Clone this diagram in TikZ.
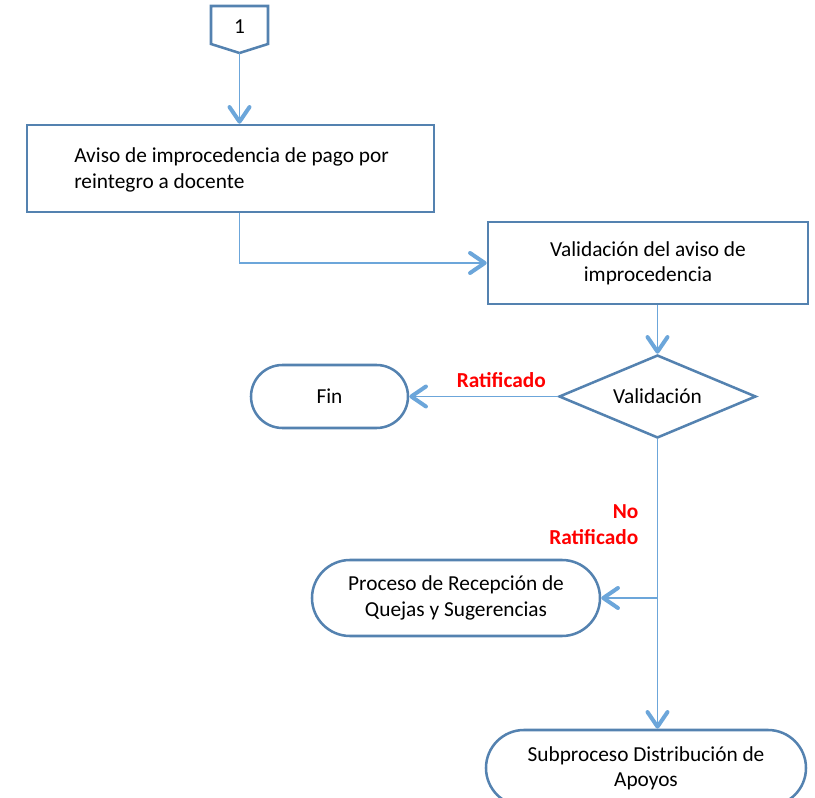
\documentclass[tikz,border=0pt]{standalone}
\usepackage{fontspec}
\setmainfont{Carlito}
\usetikzlibrary{arrows.meta,positioning,shapes.geometric,shapes.misc}
\definecolor{edgeblue}{RGB}{84,130,176}
\definecolor{flowblue}{RGB}{108,166,218}
\definecolor{labelred}{RGB}{255,0,0}
\tikzset{
  procbox/.style={draw=edgeblue, line width=1.9pt, fill=white, inner sep=0pt},
  termbox/.style={rounded rectangle, draw=edgeblue, line width=1.9pt, fill=white, inner sep=0pt, align=center},
  decbox/.style={diamond, aspect=2.37, draw=edgeblue, line width=1.9pt, fill=white, inner sep=0pt},
  flow/.style={draw=flowblue, line width=1.1pt, -{Straight Barb[length=11pt,width=15pt,line width=3pt,round]}},
  branch/.style={draw=flowblue, line width=1.1pt},
  condlabel/.style={text=labelred, font=\fontsize{16}{19.5}\selectfont\bfseries}
}
\begin{document}
\begin{tikzpicture}[x=0.75pt,y=-0.75pt,font=\fontsize{16}{19}\selectfont]
\useasboundingbox (0,0) rectangle (815,798);
% off-page connector
\draw[edgeblue, line width=1.9pt, fill=white] (211,6) -- (268,6) -- (268,44) -- (239.5,53) -- (211,44) -- cycle;
\node (conn) at (239.5,27) {1};
\coordinate (conntip) at (239.5,53);
% process boxes
\node[procbox, minimum width=407*0.75pt, minimum height=87*0.75pt] (aviso) at (230.5,168.5) {};
\node[anchor=west, align=left, inner sep=0pt] (avisotext) at (74,170) {Aviso de improcedencia de pago por\\reintegro a docente};
\node[procbox, minimum width=320*0.75pt, minimum height=82*0.75pt, align=center] (valaviso) at (648,263) {Validación del aviso de\\improcedencia};
% decision
\node[decbox, minimum width=197*0.75pt, minimum height=83*0.75pt] (valid) at (657.5,396.5) {Validación};
% terminators
\node[termbox, minimum width=157*0.75pt, minimum height=63*0.75pt] (fin) at (329.5,396.5) {Fin};
\node[termbox, minimum width=288*0.75pt, minimum height=76*0.75pt] (quejas) at (456,598) {Proceso de Recepción de\\Quejas y Sugerencias};
\node[termbox, minimum width=320*0.75pt, minimum height=76*0.75pt] (apoyos) at (646,768) {Subproceso Distribución de\\Apoyos};
\coordinate (split) at (657.5,598);
% connectors
\draw[flow] (conntip) -- (conntip |- aviso.north);
\draw[flow] (aviso.south -| conntip) |- (valaviso.west);
\draw[flow] (valaviso.south -| valid.north) -- (valid.north);
\draw[flow] (valid.west) -- node[condlabel, pos=0.38, above=3pt] {Ratificado} (fin.east);
\draw[branch] (valid.south) -- (split);
\draw[flow] (split) -- (quejas.east);
\draw[flow] (split) -- (split |- apoyos.north);
\node[condlabel, align=right, anchor=south east] (noratif) at (643,549) {No\\Ratificado};
\end{tikzpicture}
\end{document}
